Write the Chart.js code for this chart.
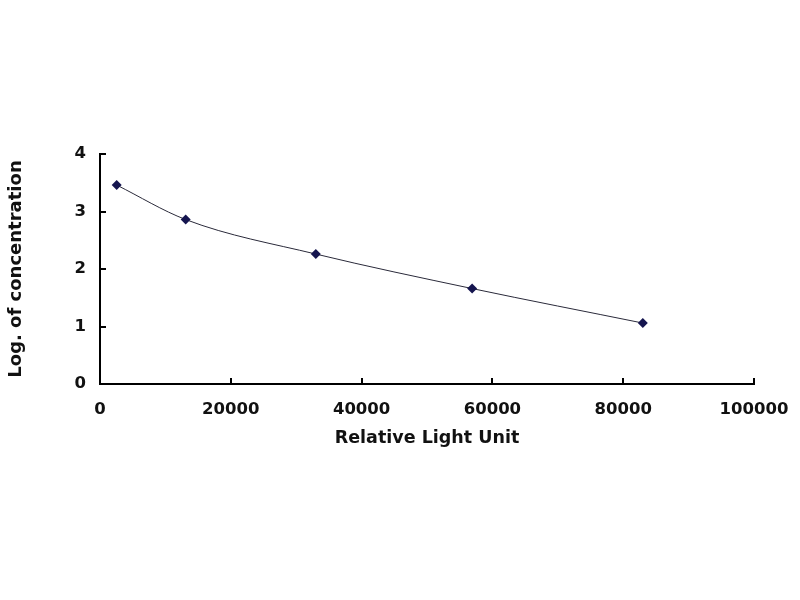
<!DOCTYPE html>
<html>
<head>
<meta charset="utf-8">
<script src="https://cdn.jsdelivr.net/npm/chart.js@4"></script>
<style>
  html, body { margin: 0; padding: 0; background: #fff; }
  #wrap { width: 800px; height: 600px; }
</style>
</head>
<body>
<div id="wrap"><canvas id="curve"></canvas></div>
<script>
// standard curve points
const rluValues = [2550, 13100, 33000, 56900, 83000];
const logConc = [3.46, 2.86, 2.26, 1.66, 1.06];
const xTicks = [0, 20000, 40000, 60000, 80000, 100000];
const yTicks = [0, 1, 2, 3, 4];

const points = rluValues.map((x, i) => ({ x: x, y: logConc[i] }));
const axisFont = { family: 'DejaVu Sans', weight: 'bold', size: 16.5 };
const titleFont = { family: 'DejaVu Sans', weight: 'bold', size: 17.5 };

// tick marks pointing into the plot, like the original
const innerTicks = {
    id: 'innerTicks',
    afterDraw(chart) {
        const { ctx, scales: { x, y } } = chart;
        ctx.save();
        ctx.strokeStyle = '#000';
        ctx.lineWidth = 2;
        ctx.beginPath();
        xTicks.forEach(v => {
            const px = Math.round(x.getPixelForValue(v));
            ctx.moveTo(px, y.bottom);
            ctx.lineTo(px, y.bottom - 6);
        });
        yTicks.forEach(v => {
            const py = Math.round(y.getPixelForValue(v));
            ctx.moveTo(x.left, py);
            ctx.lineTo(x.left + 6, py);
        });
        ctx.stroke();
        ctx.restore();
    }
};

new Chart(document.getElementById('curve'), {
    type: 'scatter',
    data: {
        datasets: [{
            data: points,
            showLine: true,
            borderColor: '#2a2a3a',
            borderWidth: 1,
            cubicInterpolationMode: 'monotone',
            pointStyle: 'rectRot',
            pointRadius: 5,
            pointBackgroundColor: '#15154f',
            pointBorderColor: '#15154f',
            pointBorderWidth: 0
        }]
    },
    options: {
        responsive: true,
        maintainAspectRatio: false,
        animation: false,
        layout: { padding: { top: 154, right: 46, left: 0, bottom: 151 } },
        plugins: {
            legend: { display: false },
            tooltip: { enabled: false }
        },
        scales: {
            x: {
                type: 'linear',
                min: 0,
                max: 100000,
                afterBuildTicks: (s) => { s.ticks = xTicks.map(v => ({ value: v })); },
                afterFit: (s) => { s.height = 65; s.paddingLeft = 0; s.paddingRight = 0; },
                border: { color: '#000', width: 2 },
                grid: { drawOnChartArea: false, drawTicks: false },
                ticks: { color: '#111', font: axisFont, padding: 16, maxRotation: 0, callback: (v) => String(v) },
                title: {
                    display: true,
                    text: 'Relative Light Unit',
                    color: '#111',
                    font: titleFont,
                    padding: 0
                }
            },
            y: {
                type: 'linear',
                min: 0,
                max: 4,
                afterBuildTicks: (s) => { s.ticks = yTicks.map(v => ({ value: v })); },
                afterFit: (s) => { s.width = 100; s.paddingTop = 0; s.paddingBottom = 0; },
                border: { color: '#000', width: 2 },
                grid: { drawOnChartArea: false, drawTicks: false },
                ticks: { color: '#111', font: axisFont, padding: 14, callback: (v) => String(v) },
                title: {
                    display: true,
                    text: 'Log. of concentration',
                    color: '#111',
                    font: { family: 'DejaVu Sans', weight: 'bold', size: 18 },
                    padding: { top: 6, bottom: 0 }
                }
            }
        }
    },
    plugins: [innerTicks]
});
</script>
</body>
</html>
